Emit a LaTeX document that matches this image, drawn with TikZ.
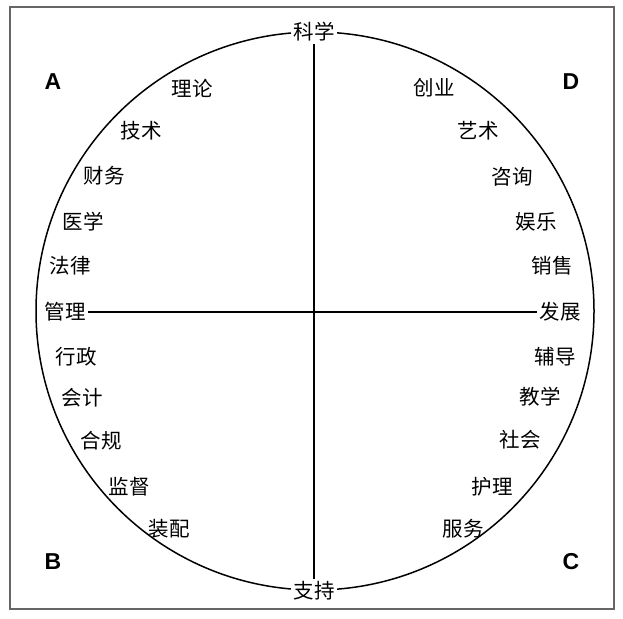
\documentclass[tikz,border=0pt]{standalone}
\usepackage{fontspec}
\setmainfont{Liberation Sans}
\newfontfamily\cjk{Noto Sans CJK SC}
\usetikzlibrary{positioning}

\begin{document}
\begin{tikzpicture}[
        x=1pt, y=-1pt,
        word/.style={
            font=\cjk\fontsize{20.5}{20.5}\selectfont,
            inner sep=1pt
        },
        pole/.style={
            word,
            fill=white,
            inner sep=2.5pt
        },
        quad/.style={
            font=\bfseries\fontsize{23}{23}\selectfont
        }
    ]
        \useasboundingbox (0,0) rectangle (623,618);
        % Frame and circle
        \draw[line width=1.7pt, black!60] (10,7) rectangle (614,609);
        \draw[line width=1.5pt] (315,311) circle (279pt);

        % Axis labels on the circle
        \node[pole] (sci) at (314,32) {科学};
        \node[pole] (sup) at (314,591) {支持};
        \node[pole] (mgt) at (65,312) {管理};
        \node[pole] (dev) at (560,312) {发展};
        \draw[line width=1.5pt] (sci) -- (sup);
        \draw[line width=1.5pt] (mgt) -- (dev);

        % Quadrant letters
        \node[quad] (qA) at (53,82) {A};
        \node[quad] (qD) at (571,82) {D};
        \node[quad] (qB) at (53,562) {B};
        \node[quad] (qC) at (571,562) {C};

        % Left half: A (top), B (bottom)
        \node[word] (lilun) at (192,88) {理论};
        \node[word] (jishu) at (141,131) {技术};
        \node[word] (caiwu) at (104,176) {财务};
        \node[word] (yixue) at (83,222) {医学};
        \node[word] (falv) at (70,266) {法律};
        \node[word] (xingzheng) at (76,357) {行政};
        \node[word] (kuaiji) at (82,398) {会计};
        \node[word] (hegui) at (101,441) {合规};
        \node[word] (jiandu) at (129,487) {监督};
        \node[word] (zhuangpei) at (169,529) {装配};

        % Right half: D (top), C (bottom)
        \node[word] (chuangye) at (434,88) {创业};
        \node[word] (yishu) at (478,131) {艺术};
        \node[word] (zixun) at (512,177) {咨询};
        \node[word] (yule) at (536,222) {娱乐};
        \node[word] (xiaoshou) at (552,266) {销售};
        \node[word] (fudao) at (555,357) {辅导};
        \node[word] (jiaoxue) at (540,397) {教学};
        \node[word] (shehui) at (520,440) {社会};
        \node[word] (huli) at (492,487) {护理};
        \node[word] (fuwu) at (463,529) {服务};
    \end{tikzpicture}
\end{document}
